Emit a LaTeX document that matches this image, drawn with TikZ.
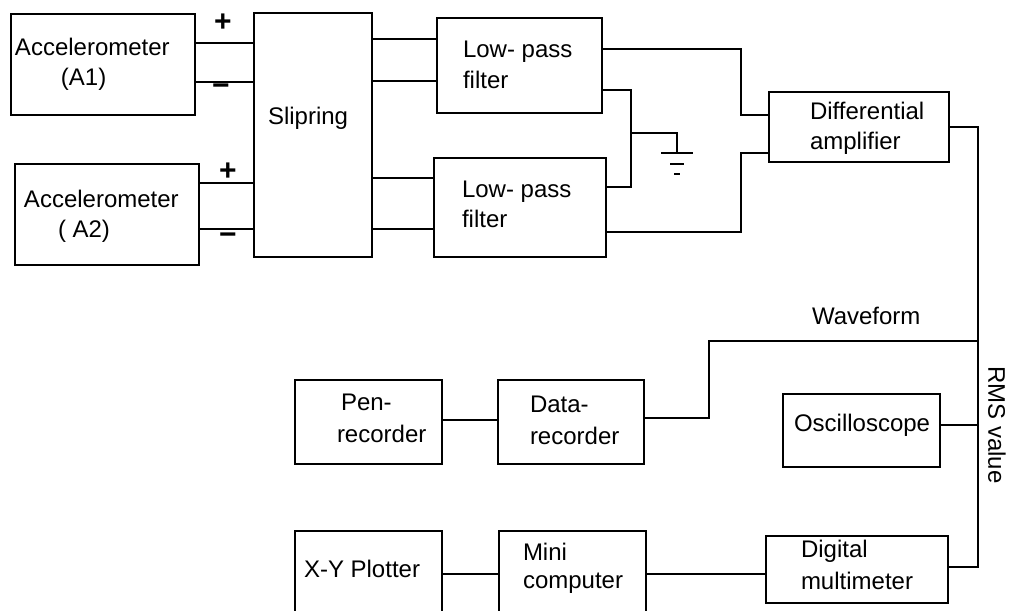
\documentclass[tikz,border=0pt]{standalone}
\usepackage{fontspec}
\setmainfont{Liberation Sans}
\begin{document}
\begin{tikzpicture}[x=0.5pt, y=-0.5pt, line width=1pt,
  box/.style={draw, inner sep=0pt},
  lbl/.style={anchor=base west, inner sep=0pt, font=\fontsize{12}{14}\selectfont},
  sign/.style={inner sep=0pt, font=\fontsize{15}{15}\selectfont\bfseries}]
  % 1. Page size (the bottom row runs off the edge)
  \clip (0,0) rectangle (1014,611);

  % 2. Boxes of the measuring chain
  \node[box, minimum width=92pt, minimum height=50.5pt] (acc1) at (103,64.5) {};
  \node[box, minimum width=92pt, minimum height=50.5pt] (acc2) at (107,214.5) {};
  \node[box, minimum width=59pt, minimum height=122pt] (slip) at (313,135) {};
  \node[box, minimum width=82.5pt, minimum height=47.5pt] (lpf1) at (519.5,65.5) {};
  \node[box, minimum width=86pt, minimum height=49.5pt] (lpf2) at (520,207.5) {};
  \node[box, minimum width=90pt, minimum height=35pt] (diff) at (859,127) {};
  \node[box, minimum width=73.5pt, minimum height=42pt] (pen) at (368.5,422) {};
  \node[box, minimum width=73pt, minimum height=42pt] (data) at (570.5,422) {};
  \node[box, minimum width=78.5pt, minimum height=36.5pt] (osc) at (861.5,430.5) {};
  \node[box, minimum width=91pt, minimum height=33.5pt] (dmm) at (857,569.5) {};
  \node[box, minimum width=73.5pt, minimum height=59.5pt] (xy) at (368.5,590.5) {};
  \node[box, minimum width=73.5pt, minimum height=59.5pt] (mini) at (572.5,590.5) {};

  % 3. Texts inside the boxes
  \node[lbl] (tacc1a) at (14,55) {Accelerometer};
  \node[lbl] (tacc1b) at (60,85) {(A1)};
  \node[lbl] (tacc2a) at (23,207) {Accelerometer};
  \node[lbl] (tacc2b) at (57,237) {( A2)};
  \node[lbl] (tslip) at (267,124) {Slipring};
  \node[lbl] (tlpf1a) at (462,57) {Low- pass};
  \node[lbl] (tlpf1b) at (462,88) {filter};
  \node[lbl] (tlpf2a) at (461,197) {Low- pass};
  \node[lbl] (tlpf2b) at (461,227) {filter};
  \node[lbl] (tdiffa) at (809,119) {Differential};
  \node[lbl] (tdiffb) at (809,149) {amplifier};
  \node[lbl] (tpena) at (340,410) {Pen-};
  \node[lbl] (tpenb) at (336,442) {recorder};
  \node[lbl] (tdataa) at (529,412) {Data-};
  \node[lbl] (tdatab) at (529,444) {recorder};
  \node[lbl] (tosc) at (793,431) {Oscilloscope};
  \node[lbl] (tdmma) at (800,557) {Digital};
  \node[lbl] (tdmmb) at (800,589) {multimeter};
  \node[lbl] (txy) at (303,577) {X-Y Plotter};
  \node[lbl] (tminia) at (522,560) {Mini};
  \node[lbl] (tminib) at (522,588) {computer};

  % 4. Signal names and polarity signs
  \node[lbl] (twave) at (811,324) {Waveform};
  \node[lbl, anchor=center, rotate=-90] (trms) at (997,425) {RMS value};
  \node[sign] (p1) at (223,23) {+};
  \node[sign] (m1) at (221,90) {−};
  \node[sign] (p2) at (228,172) {+};
  \node[sign] (m2) at (228,239) {−};

  % 5. Wires between accelerometers, slipring and filters
  \foreach \y in {43,82} {
    \draw (acc1.east |- 0,\y) -- (slip.west |- 0,\y);
  }
  \foreach \y in {183,229} {
    \draw (acc2.east |- 0,\y) -- (slip.west |- 0,\y);
  }
  \foreach \y in {39,81} {
    \draw (slip.east |- 0,\y) -- (lpf1.west |- 0,\y);
  }
  \foreach \y in {178,229} {
    \draw (slip.east |- 0,\y) -- (lpf2.west |- 0,\y);
  }

  % 6. Filters to the amplifier, common line to ground
  \coordinate (ja) at (741,49);
  \coordinate (jb) at (741,115);
  \coordinate (jc) at (741,232);
  \coordinate (jd) at (741,153);
  \coordinate (je) at (631,90);
  \coordinate (jf) at (631,187);
  \coordinate (jg) at (631,133);
  \coordinate (gnd) at (677,153);
  \draw (lpf1.east |- ja) -- (ja) -- (jb) -- (diff.west |- jb);
  \draw (lpf2.east |- jc) -- (jc) -- (jd) -- (diff.west |- jd);
  \draw (lpf1.east |- je) -- (je) -- (jf) -- (lpf2.east |- jf);
  \draw (jg) -| (gnd);
  \draw ([shift={(-16,0)}]gnd) -- ([shift={(16,0)}]gnd);
  \draw ([shift={(-7,11)}]gnd) -- ([shift={(7,11)}]gnd);
  \draw ([shift={(-3,21)}]gnd) -- ([shift={(3,21)}]gnd);

  % 7. Amplifier output bus to the recorders and meters
  \coordinate (bt) at (978,127);
  \coordinate (bb) at (978,567);
  \coordinate (bw) at (978,341);
  \coordinate (kw) at (709,341);
  \coordinate (kd) at (709,418);
  \draw (diff.east |- bt) -- (bt) -- (bb) -- (dmm.east |- bb);
  \draw (bw) -- (kw) -- (kd) -- (data.east |- kd);
  \draw (osc.east |- 0,425) -- (978,425);
  \draw (pen.east |- 0,420) -- (data.west |- 0,420);
  \draw (xy.east |- 0,574) -- (mini.west |- 0,574);
  \draw (mini.east |- 0,574) -- (dmm.west |- 0,574);
\end{tikzpicture}
\end{document}
